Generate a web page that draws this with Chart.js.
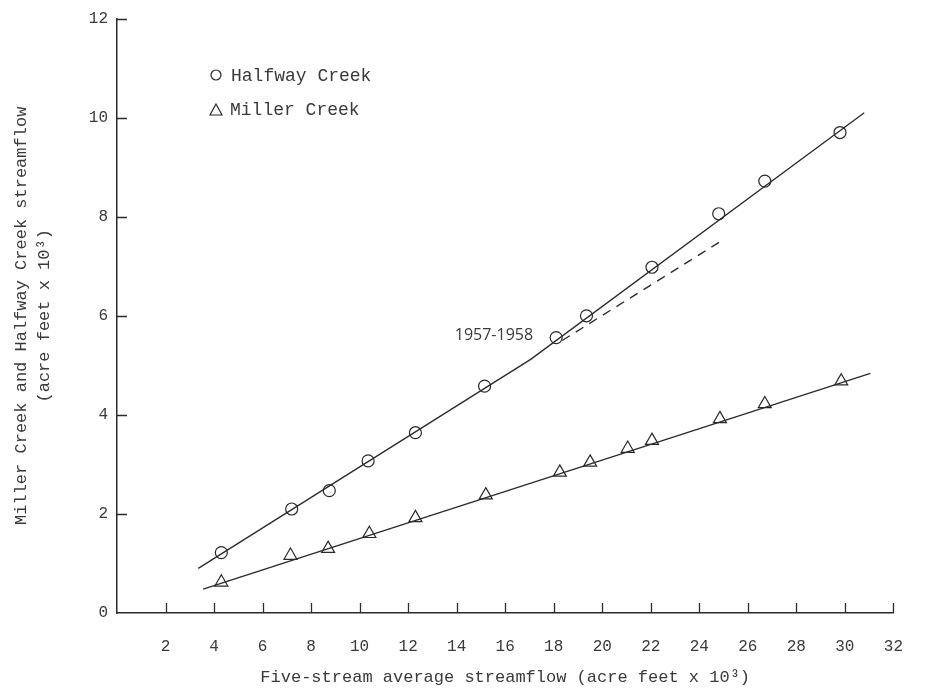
<!DOCTYPE html>
<html>
<head>
<meta charset="utf-8">
<script src="https://cdn.jsdelivr.net/npm/chart.js@4.4.1/dist/chart.umd.min.js"></script>
<style>
  html, body { margin: 0; padding: 0; background: #fff; }
  #wrap { width: 927px; height: 690px; }
</style>
</head>
<body>
<div id="wrap"><canvas id="flowChart" width="927" height="690"></canvas></div>
<script>
// Five-stream average vs. Halfway / Miller Creek streamflow (acre feet x 10^3)
const halfwayX = [4.3, 7.2, 8.75, 10.35, 12.3, 15.15, 18.1, 19.35, 22.05, 24.8, 26.7, 29.8];
const halfwayY = [1.22, 2.1, 2.47, 3.07, 3.64, 4.58, 5.56, 6.0, 6.98, 8.06, 8.72, 9.7];

const millerX = [4.3, 7.15, 8.7, 10.4, 12.3, 15.2, 18.25, 19.5, 21.05, 22.05, 24.85, 26.7, 29.85];
const millerY = [0.62, 1.16, 1.3, 1.6, 1.92, 2.38, 2.84, 3.04, 3.32, 3.48, 3.92, 4.22, 4.68];

// fitted lines drawn on the original
const halfwayFitX = [3.35, 17.05, 30.8];
const halfwayFitY = [0.9, 5.12, 10.1];
const millerFitX = [3.55, 31.05];
const millerFitY = [0.48, 4.84];
const trendX = [18.35, 25.0];   // 1957-1958 continuation (dashed)
const trendY = [5.5, 7.54];

const xTicks = [0, 2, 4, 6, 8, 10, 12, 14, 16, 18, 20, 22, 24, 26, 28, 30, 32];
const yTicks = [0, 2, 4, 6, 8, 10, 12];

const ink = '#2a2a2a';
const textInk = '#3a3a3a';
const mono = '"Liberation Mono", "DejaVu Sans Mono", monospace';

function pts(xs, ys) {
    return xs.map((v, i) => ({ x: v, y: ys[i] }));
}

// inward tick marks, the 1957-1958 note and the legend
const decorPlugin = {
    id: 'decor',
    afterDraw(chart) {
        const { ctx, chartArea, scales: { x, y } } = chart;
        ctx.save();
        ctx.strokeStyle = ink;
        ctx.lineWidth = 1.3;
        ctx.beginPath();
        xTicks.forEach(v => {
            if (v === 0) return;
            const px = Math.round(x.getPixelForValue(v)) + 0.5;
            ctx.moveTo(px, chartArea.bottom);
            ctx.lineTo(px, chartArea.bottom - 10);
        });
        yTicks.forEach(v => {
            if (v === 0) return;
            const py = Math.round(y.getPixelForValue(v)) + 0.5;
            ctx.moveTo(chartArea.left, py);
            ctx.lineTo(chartArea.left + 10, py);
        });
        ctx.stroke();

        // period note
        ctx.fillStyle = textInk;
        ctx.font = '16px "Open Sans", "DejaVu Sans", sans-serif';
        ctx.textAlign = 'right';
        ctx.textBaseline = 'middle';
        ctx.fillText('1957-1958', x.getPixelForValue(17.15), y.getPixelForValue(5.6));

        // legend
        ctx.font = '18px ' + mono;
        ctx.textAlign = 'left';
        ctx.lineWidth = 1.2;
        ctx.beginPath();
        ctx.arc(216, 75, 5, 0, Math.PI * 2);
        ctx.stroke();
        ctx.fillText('Halfway Creek', 231, 76);

        ctx.beginPath();
        ctx.moveTo(216, 104);
        ctx.lineTo(222, 115);
        ctx.lineTo(210, 115);
        ctx.closePath();
        ctx.stroke();
        ctx.fillText('Miller Creek', 230, 110);
        ctx.restore();
    }
};

const lineStyle = {
    showLine: true,
    borderColor: ink,
    borderWidth: 1.3,
    pointRadius: 0,
    fill: false,
    tension: 0
};

new Chart(document.getElementById('flowChart'), {
    type: 'scatter',
    data: {
        datasets: [
            { label: 'Halfway fit', data: pts(halfwayFitX, halfwayFitY), ...lineStyle },
            { label: 'Miller fit', data: pts(millerFitX, millerFitY), ...lineStyle },
            { label: '1957-1958', data: pts(trendX, trendY), ...lineStyle, borderDash: [9, 7] },
            {
                label: 'Halfway Creek',
                data: pts(halfwayX, halfwayY),
                pointStyle: 'circle',
                pointRadius: 6,
                pointBackgroundColor: 'rgba(255,255,255,0)',
                pointBorderColor: ink,
                pointBorderWidth: 1.2
            },
            {
                label: 'Miller Creek',
                data: pts(millerX, millerY),
                pointStyle: 'triangle',
                pointRadius: 7.5,
                pointBackgroundColor: 'rgba(255,255,255,0)',
                pointBorderColor: ink,
                pointBorderWidth: 1.2
            }
        ]
    },
    options: {
        responsive: false,
        animation: false,
        layout: { padding: { top: 13, right: 16, left: 0, bottom: 0 } },
        plugins: {
            legend: { display: false },
            tooltip: { enabled: false }
        },
        scales: {
            x: {
                type: 'linear',
                min: 0,
                max: 32,
                afterFit(scale) { scale.height = 77; },
                afterBuildTicks(scale) { scale.ticks = xTicks.map(v => ({ value: v })); },
                grid: { display: false, drawTicks: false },
                border: { display: true, color: ink, width: 1.5 },
                ticks: {
                    autoSkip: false,
                    maxRotation: 0,
                    padding: 24,
                    color: textInk,
                    font: { family: mono, size: 16 },
                    callback: v => (v === 0 ? '' : v)
                },
                title: {
                    display: true,
                    text: 'Five-stream average streamflow (acre feet x 10³)',
                    color: textInk,
                    font: { family: mono, size: 17, lineHeight: 1.2 },
                    padding: { top: 0, bottom: 2 }
                }
            },
            y: {
                type: 'linear',
                min: 0,
                max: 12,
                afterFit(scale) { scale.width = 117; },
                afterBuildTicks(scale) { scale.ticks = yTicks.map(v => ({ value: v })); },
                grid: { display: false, drawTicks: false },
                border: { display: true, color: ink, width: 1.5 },
                ticks: {
                    padding: 9,
                    color: textInk,
                    font: { family: mono, size: 16 }
                },
                title: {
                    display: true,
                    text: ['Miller Creek and Halfway Creek streamflow', '(acre feet x 10³)'],
                    color: textInk,
                    font: { family: mono, size: 17, lineHeight: 1.35 },
                    padding: { top: 10, bottom: 0 }
                }
            }
        }
    },
    plugins: [decorPlugin]
});
</script>
</body>
</html>
